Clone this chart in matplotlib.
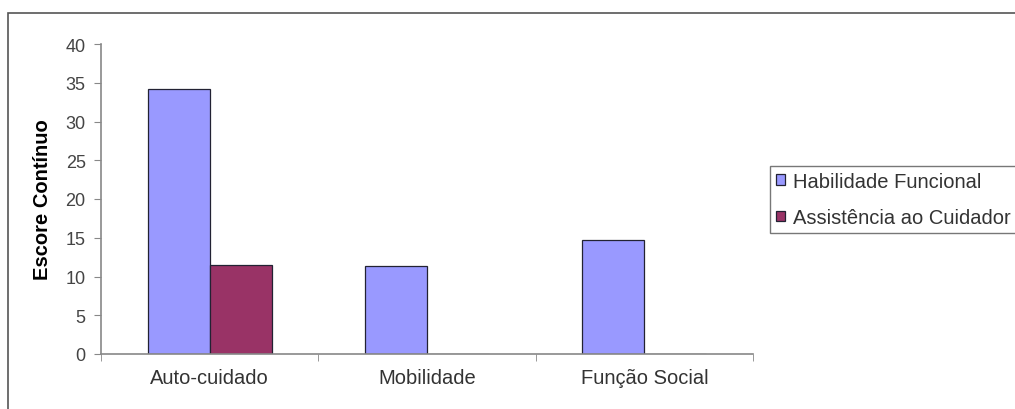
import matplotlib.pyplot as plt
import numpy as np
from matplotlib.patches import Rectangle

plt.rcParams['font.family'] = ['Liberation Sans', 'DejaVu Sans']

# data
categories = ["Auto-cuidado", "Mobilidade", "Função Social"]
habilidade = [34.2, 11.4, 14.7]
assistencia = [11.5, 0, 0]
series_names = ["Habilidade Funcional", "Assistência ao Cuidador"]

fig = plt.figure(figsize=(10.15, 4.1), dpi=100)
W, H = 1015, 410
ax = fig.add_axes([101 / W, 1 - 355 / H, (753 - 101) / W, (355 - 45) / H])

# outer chart border (Excel chart area)
fig.patches.append(Rectangle((8 / W, -0.2), 1.2, 1.2 - 14 / H, transform=fig.transFigure,
                             fill=False, edgecolor='#555555', linewidth=1.2))

x = np.arange(len(categories))
bw = 1 / 3.5
ax.bar(x - bw / 2, habilidade, bw, color='#9999FF', edgecolor='#222233', linewidth=0.9,
       label=series_names[0])
ax.bar(x + bw / 2, assistencia, bw, color='#993366', edgecolor='#222233', linewidth=0.9,
       label=series_names[1])

ax.set_xlim(-0.5, len(categories) - 0.5)
ax.set_ylim(0, 40)
ax.set_yticks(range(0, 41, 5))
ax.set_xticks(x)
ax.set_xticklabels(categories)
ax.set_xticks(np.arange(-0.5, len(categories), 1), minor=True)
ax.tick_params(axis='x', which='major', length=0, pad=10, labelsize=14.5, labelcolor='#333333')
ax.tick_params(axis='x', which='minor', length=5, color='#888888')
ax.tick_params(axis='y', length=5, color='#888888', labelsize=13, labelcolor='#444444', pad=6)

for side in ['top', 'right']:
    ax.spines[side].set_visible(False)
for side in ['left', 'bottom']:
    ax.spines[side].set_color('#888888')
    ax.spines[side].set_linewidth(1.2)

ax.set_ylabel("Escore Contínuo", fontsize=14.5, fontweight='bold', labelpad=10)

leg = fig.legend(loc='upper left', bbox_to_anchor=(770 / W, 1 - 167 / H), fontsize=14.5,
                 frameon=True, fancybox=False, edgecolor='#555555', handlelength=0.45,
                 handleheight=0.45, handletextpad=0.4, borderpad=0.3, labelspacing=0.85,
                 borderaxespad=0)
leg.get_frame().set_linewidth(1.0)
for t in leg.get_texts():
    t.set_color('#333333')

fig.savefig('out.png', dpi=100)
